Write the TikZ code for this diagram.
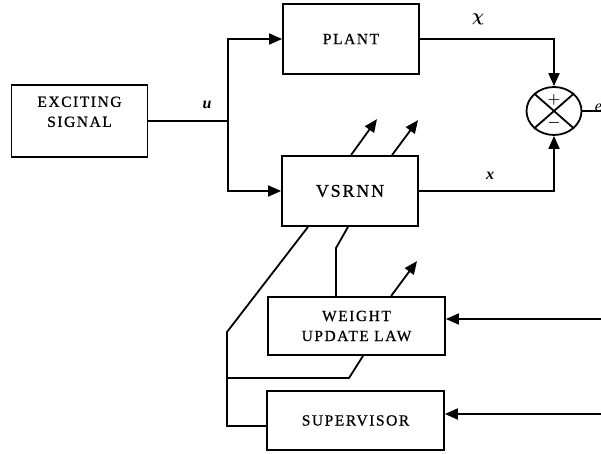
\documentclass[tikz,border=0pt]{standalone}
\usepackage{amsmath}
\usepackage{fontspec}
\setmainfont{Liberation Serif}
\usetikzlibrary{arrows.meta,shapes.geometric}
\newfontfamily\boxfont[LetterSpace=10,FakeBold=0.8]{Liberation Serif}
\tikzset{
  blk/.style={draw, inner sep=0pt, align=center,
    font=\fontsize{15.5}{20}\selectfont\boxfont},
  arr/.style={-{Triangle[length=13pt,width=11pt]}},
  lbl/.style={font=\fontsize{16}{18}\selectfont},
  sgn/.style={font=\fontsize{14}{14}\selectfont, inner sep=0pt}
}
\begin{document}
\begin{tikzpicture}[x=1pt,y=-1pt,line width=1.8pt]
\useasboundingbox (0,0) rectangle (601,454);
\node[blk, minimum width=136pt, minimum height=72pt] (exc) at (79.5,121) {EXCITING\\SIGNAL\\[-1.5pt]};
\node[blk, minimum width=136pt, minimum height=70pt] (plant) at (351,39) {PLANT};
\node[blk, minimum width=136pt, minimum height=70pt, font=\fontsize{18}{20}\selectfont\boxfont] (vsrnn) at (350,191) {VSRNN};
\node[blk, minimum width=177pt, minimum height=58pt] (wul) at (356.5,326) {WEIGHT\\UPDATE LAW};
\node[blk, minimum width=177pt, minimum height=59pt] (sup) at (355.5,420.5) {SUPERVISOR};
\node[draw, ellipse, minimum width=55pt, minimum height=48pt, inner sep=0pt] (sum) at (554,111) {};
\draw (sum.north west) -- (sum.south east) (sum.north east) -- (sum.south west);
\node[sgn] (plus) at (554,100) {$\boldsymbol{+}$};
\node[sgn] (minus) at (554,123) {$\boldsymbol{-}$};

\coordinate (junc) at (228,121);
\draw (exc.east) -- (junc);
\node[lbl] (ulab) at (207,105) {\bfseries\itshape u};
\draw[arr] (junc) |- (plant.west);
\draw[arr] (junc) |- (vsrnn.west);
\draw[arr] (plant.east) -| (sum.north);
\draw[arr] (vsrnn.east) -| (sum.south);
\node[lbl] (chilab) at (478,19) {$\boldsymbol{\chi}$};
\node[lbl] (xlab) at (490,176) {\bfseries\itshape x};
\coordinate (eout) at (601,111);
\draw (sum.east) -- (eout);
\node[lbl, anchor=west, inner sep=0pt] (elab) at (594,108) {\itshape e};

\draw[arr] ([xshift=1pt]vsrnn.north) -- ++(26,-36);
\draw[arr] ([xshift=42pt]vsrnn.north) -- ++(26,-35);

\coordinate (k1) at (227,332);
\coordinate (k2) at (227,426);
\draw ([xshift=-42pt]vsrnn.south) -- (k1) -- (k2) -- ([yshift=-5.5pt]sup.west);
\coordinate (k3) at (336,248);
\draw ([xshift=-2pt]vsrnn.south) -- (k3) -- ([xshift=-20.5pt]wul.north);
\draw[arr] ([xshift=34.5pt]wul.north) -- ++(26,-35);
\coordinate (k4) at (349,378);
\coordinate (k5) at (227,378);
\draw ([xshift=6.5pt]wul.south) -- (k4) -- (k5);

\coordinate (in1) at (601,319);
\coordinate (in2) at (601,414);
\draw[arr] (in1) -- ([yshift=7pt]wul.east);
\draw[arr] (in2) -- ([yshift=6.5pt]sup.east);
\end{tikzpicture}
\end{document}
